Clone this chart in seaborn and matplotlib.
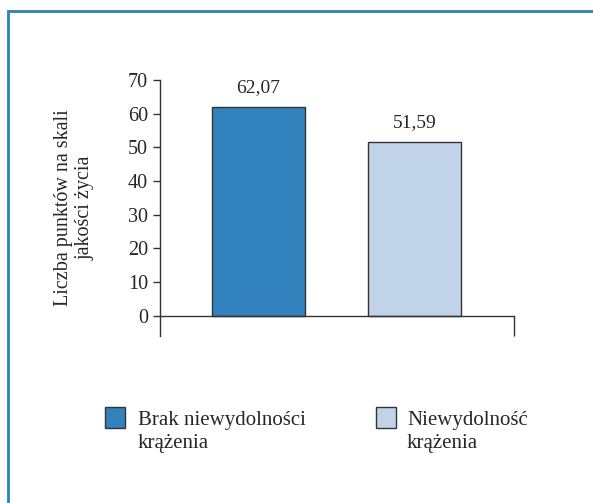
import numpy as np
import pandas as pd
import matplotlib
matplotlib.use("Agg")
import matplotlib.pyplot as plt
from matplotlib.patches import Rectangle
import seaborn as sns

GROUPS = ["Brak niewydolności\nkrążenia", "Niewydolność\nkrążenia"]
SCORES = [62.07, 51.59]
COLORS = ["#3282bd", "#c1d3e8"]
Y_TICKS = [0, 10, 20, 30, 40, 50, 60, 70]

sns.set_style("white")
plt.rcParams['font.family'] = ['Liberation Serif', 'DejaVu Serif']
plt.rcParams['font.size'] = 14.5

df = pd.DataFrame({"group": GROUPS, "score": SCORES})

fig = plt.figure(figsize=(5.93, 5.03), dpi=100)
ax = fig.add_axes([160 / 593, 1 - 336 / 503, 354 / 593, 256 / 503])

sns.barplot(data=df, x="group", y="score", hue="group", palette=COLORS,
            saturation=1, width=0.596, edgecolor="#333333", linewidth=1.0,
            legend=False, ax=ax)

# value labels with comma decimal separator
for i, v in enumerate(SCORES):
    ax.annotate(("%.2f" % v).replace(".", ","), xy=(i, v), xytext=(0, 8),
                textcoords="offset points", ha="center", va="bottom", fontsize=14)

ax.set_xlim(-0.631, 1.638)
ax.set_ylim(-6, 70)
ax.set_yticks(Y_TICKS)
ax.set_xticks([ax.get_xlim()[1]])
ax.set_xticklabels([""])
ax.set_xlabel("")
ax.set_ylabel("Liczba punktów na skali\njakości życia", fontsize=14.5,
              labelpad=24, linespacing=1.2)

for s in ["top", "right"]:
    ax.spines[s].set_visible(False)
ax.spines["bottom"].set_position(("data", 0))
for s in ["left", "bottom"]:
    ax.spines[s].set_color("#333333")
    ax.spines[s].set_linewidth(1.0)
ax.tick_params(axis="y", direction="out", length=5, width=1, color="#333333",
               left=True, labelsize=14.5, pad=3.5)
ax.tick_params(axis="x", direction="out", length=14.4, width=1, color="#333333",
               bottom=True)

# legend: square with two-line label, square aligned to the first line
for (x_box, x_txt), label, c in zip([(105, 138), (376, 407)], GROUPS, COLORS):
    fig.add_artist(Rectangle((x_box / 593, 1 - 428 / 503), 20 / 593, 21 / 503,
                             transform=fig.transFigure, facecolor=c,
                             edgecolor="#333333", linewidth=1.0))
    fig.text(x_txt / 593, 1 - 411 / 503, label, ha="left", va="top",
             fontsize=15, linespacing=1.3)

# blue frame (left and top edges visible)
fig.add_artist(Rectangle((8 / 593, -0.1), 1.2, 1.1 - 11 / 503, transform=fig.transFigure,
                         fill=False, edgecolor="#2a7fc1", linewidth=2.0, clip_on=False))

fig.savefig("out.png", dpi=100)
